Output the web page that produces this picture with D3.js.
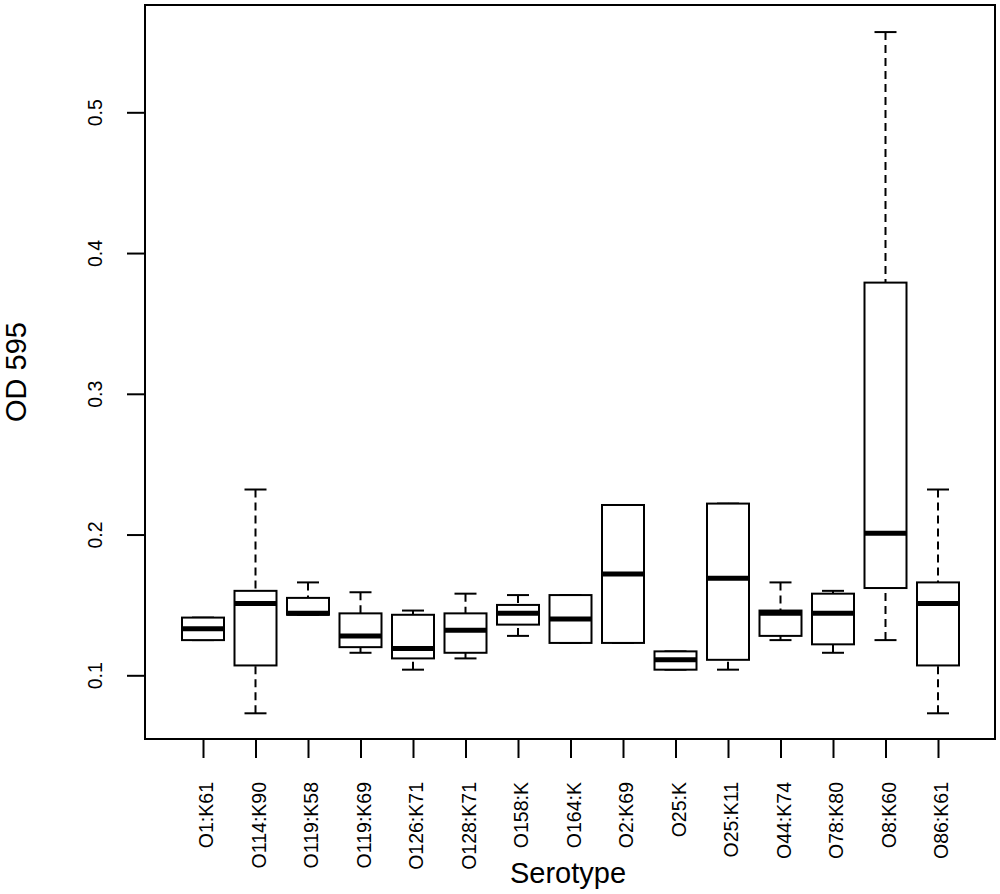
<!DOCTYPE html>
<html>
<head>
<meta charset="utf-8">
<script src="https://cdn.jsdelivr.net/npm/d3@7"></script>
<style>
	body { margin: 0; background: #fff; }
	text { font-family: "Liberation Sans", Arial, sans-serif; fill: #000; }
</style>
</head>
<body>
<div id="chart"></div>
<script>

// serotypes along the x axis
var serotypes= ["O1:K61", "O114:K90", "O119:K58", "O119:K69", "O126:K71", "O128:K71", "O158:K",
	"O164:K", "O2:K69", "O25:K", "O25:K11", "O44:K74", "O78:K80", "O8:K60", "O86:K61"];

// five number summaries (OD 595)
var whisker_low= [0.125, 0.073, 0.143, 0.116, 0.104, 0.112, 0.128, 0.123, 0.123, 0.104, 0.104, 0.125, 0.116, 0.125, 0.073];
var quart_low=   [0.125, 0.107, 0.143, 0.120, 0.112, 0.116, 0.136, 0.123, 0.123, 0.104, 0.111, 0.128, 0.122, 0.162, 0.107];
var medians=     [0.133, 0.151, 0.144, 0.128, 0.119, 0.132, 0.144, 0.140, 0.172, 0.111, 0.169, 0.144, 0.144, 0.201, 0.151];
var quart_high=  [0.141, 0.160, 0.155, 0.144, 0.143, 0.144, 0.150, 0.157, 0.221, 0.117, 0.222, 0.146, 0.158, 0.379, 0.166];
var whisker_high=[0.141, 0.232, 0.166, 0.159, 0.146, 0.158, 0.157, 0.157, 0.221, 0.117, 0.222, 0.166, 0.160, 0.557, 0.232];

var y_ticks= [0.1, 0.2, 0.3, 0.4, 0.5];

var width= 1000;
var height= 894;

var frame= {left: 145, right: 995, top: 5, bottom: 739};
var box_w= 42;
var cap_w= 22;

var svg= d3.select("#chart")
		.append("svg")
		.attr("width", width)
		.attr("height", height);

var x= d3.scalePoint()
	.domain(serotypes)
	.range([203, 938]);

var y= d3.scaleLinear()
	.domain([0.1, 0.5])
	.range([675.3, 112.3]);

// y axis
var y_axis= svg.append("g")
	.attr("transform", "translate(" + frame.left + ",0)")
	.call(d3.axisLeft(y).tickValues(y_ticks).tickSize(18).tickFormat(d3.format(".1f")));

y_axis.select(".domain").remove();
y_axis.selectAll(".tick line").attr("stroke", "#000").attr("stroke-width", 2);
y_axis.selectAll(".tick text")
	.attr("x", null)
	.attr("dy", null)
	.attr("transform", "translate(-43.5,0) rotate(-90)")
	.attr("text-anchor", "middle")
	.style("font-size", "19.5px");

// x axis
var x_axis= svg.append("g")
	.attr("transform", "translate(0," + frame.bottom + ")")
	.call(d3.axisBottom(x).tickSize(19));

x_axis.select(".domain").remove();
x_axis.selectAll(".tick line").attr("stroke", "#000").attr("stroke-width", 2);
x_axis.selectAll(".tick text")
	.attr("y", null)
	.attr("dy", null)
	.attr("transform", "translate(9.5,43) rotate(-90)")
	.attr("text-anchor", "end")
	.style("font-size", "19.5px");

svg.selectAll(".tick text").attr("fill", "#000").style("font-family", "'Liberation Sans', Arial, sans-serif");

// plot frame
svg.append("rect")
	.attr("x", frame.left)
	.attr("y", frame.top)
	.attr("width", frame.right- frame.left)
	.attr("height", frame.bottom- frame.top)
	.attr("fill", "none")
	.attr("stroke", "#000")
	.attr("stroke-width", 2);

// boxes
for (var i= 0; i< serotypes.length; i++) {
	var cx= x(serotypes[i]);
	var g= svg.append("g");

	// whiskers, dashed from the end to the box
	g.append("line")
		.attr("x1", cx).attr("x2", cx)
		.attr("y1", y(whisker_high[i])).attr("y2", y(quart_high[i]))
		.attr("stroke", "#000").attr("stroke-width", 2)
		.attr("stroke-dasharray", "8,5");
	g.append("line")
		.attr("x1", cx).attr("x2", cx)
		.attr("y1", y(whisker_low[i])).attr("y2", y(quart_low[i]))
		.attr("stroke", "#000").attr("stroke-width", 2)
		.attr("stroke-dasharray", "8,5");

	// staples
	g.append("line")
		.attr("x1", cx- cap_w/2).attr("x2", cx+ cap_w/2)
		.attr("y1", y(whisker_high[i])).attr("y2", y(whisker_high[i]))
		.attr("stroke", "#000").attr("stroke-width", 2);
	g.append("line")
		.attr("x1", cx- cap_w/2).attr("x2", cx+ cap_w/2)
		.attr("y1", y(whisker_low[i])).attr("y2", y(whisker_low[i]))
		.attr("stroke", "#000").attr("stroke-width", 2);

	g.append("rect")
		.attr("x", cx- box_w/2)
		.attr("y", y(quart_high[i]))
		.attr("width", box_w)
		.attr("height", y(quart_low[i])- y(quart_high[i]))
		.attr("fill", "#fff")
		.attr("stroke", "#000")
		.attr("stroke-width", 2);

	g.append("line")
		.attr("x1", cx- box_w/2).attr("x2", cx+ box_w/2)
		.attr("y1", y(medians[i])).attr("y2", y(medians[i]))
		.attr("stroke", "#000").attr("stroke-width", 5);
}

// axis titles
svg.append("text")
	.attr("transform", "translate(25.5,372) rotate(-90)")
	.attr("text-anchor", "middle")
	.style("font-size", "29px")
	.text("OD 595");

svg.append("text")
	.attr("x", 568)
	.attr("y", 883)
	.attr("text-anchor", "middle")
	.style("font-size", "29px")
	.text("Serotype");

</script>
</body>
</html>
